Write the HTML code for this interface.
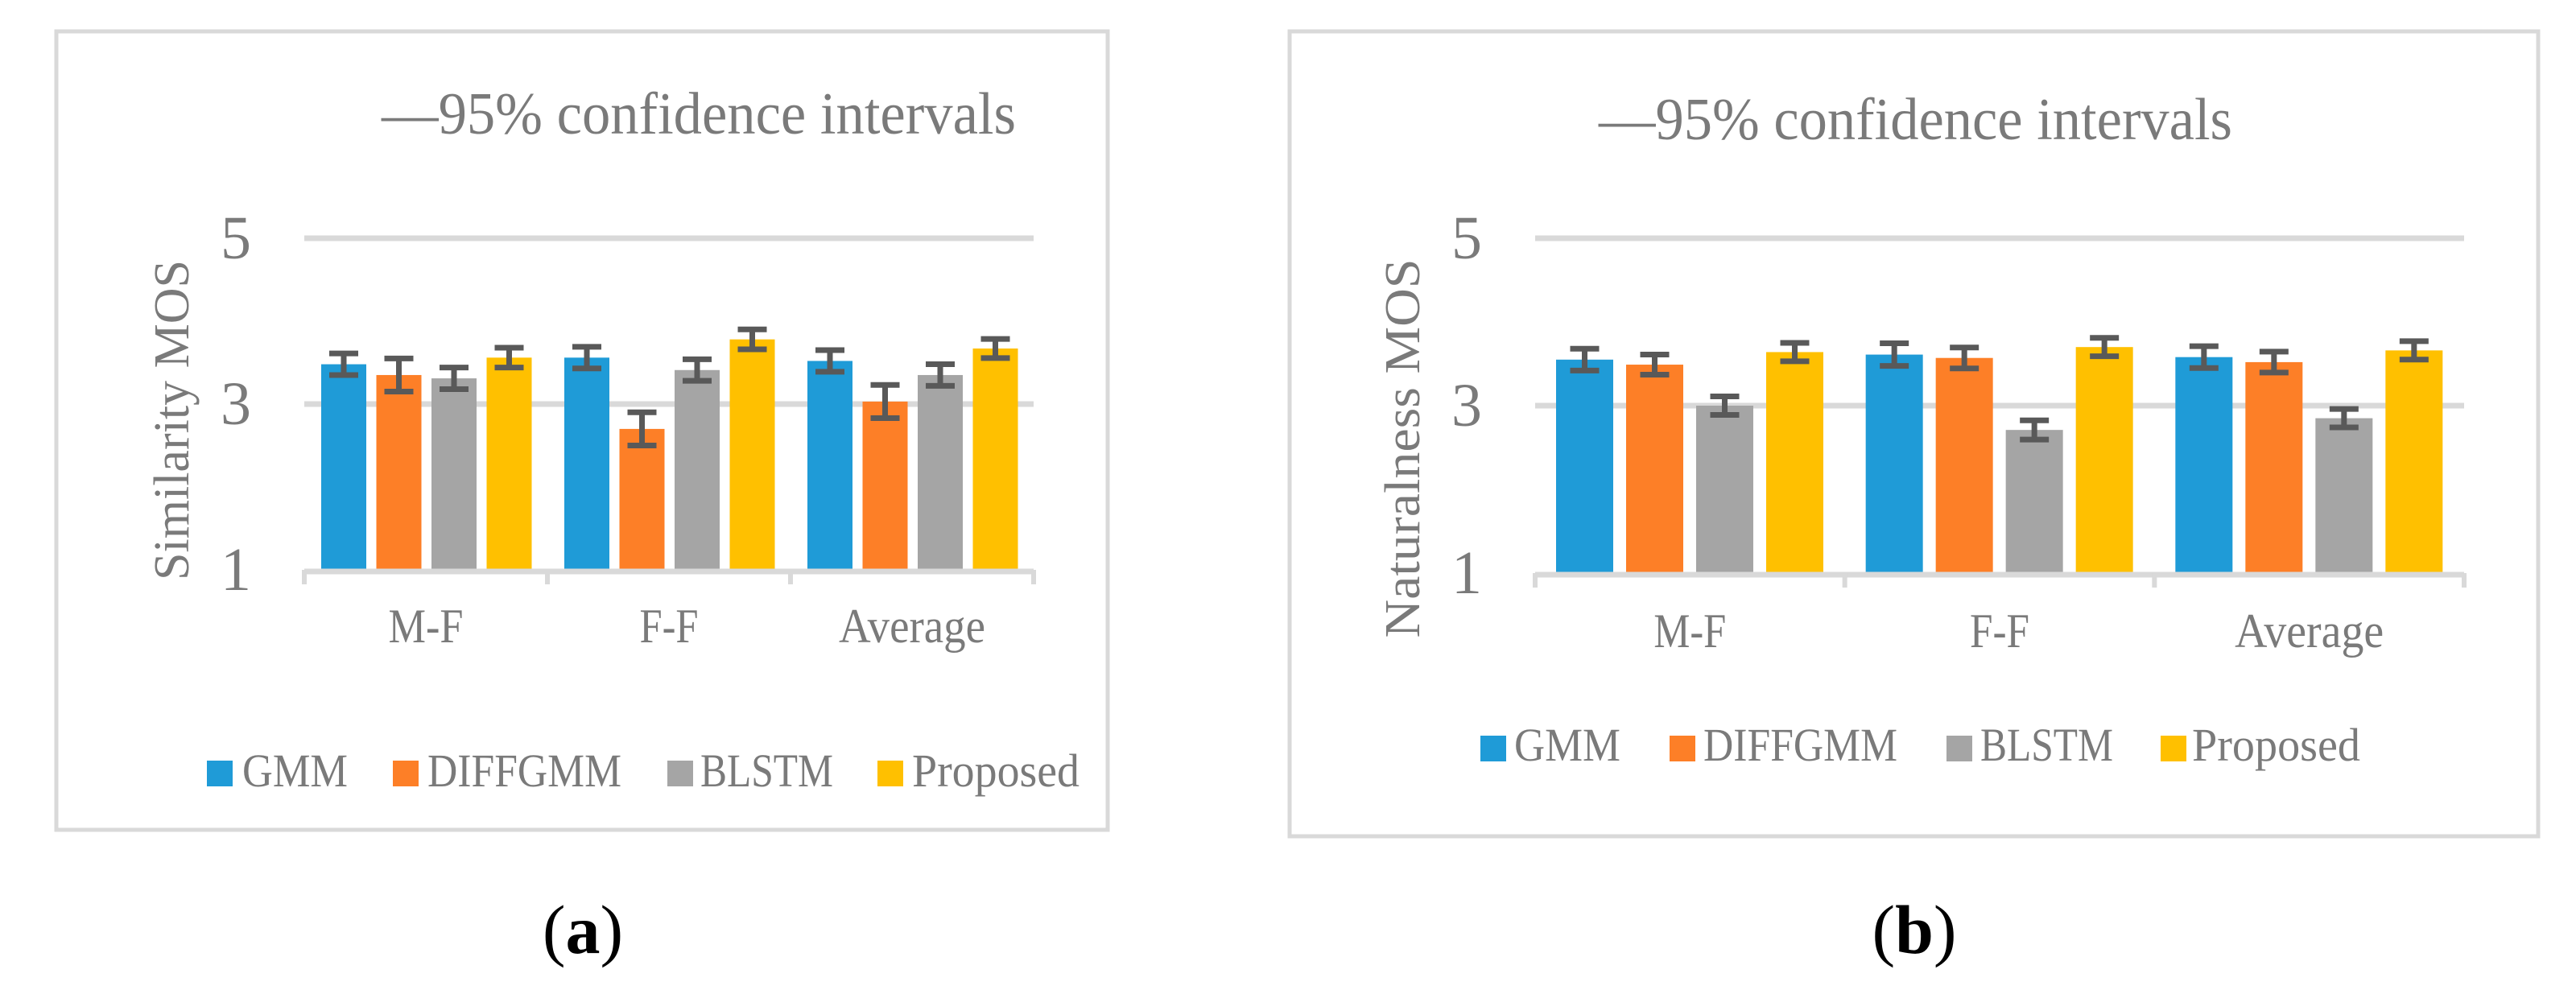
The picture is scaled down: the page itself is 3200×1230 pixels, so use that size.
<!DOCTYPE html>
<html><head><meta charset="utf-8"><style>
html,body{margin:0;padding:0;background:#fff;overflow:hidden;}
svg{display:block;font-family:"Liberation Serif",serif;}
</style></head><body>
<svg id="fig" width="3200" height="1230" viewBox="0 0 3200 1230" xmlns="http://www.w3.org/2000/svg"></svg>
<script>
const categories = ["M-F", "F-F", "Average"];
const seriesNames = ["GMM", "DIFFGMM", "BLSTM", "Proposed"];
const seriesColors = ["#1f9bd7", "#fd7f27", "#a5a5a5", "#ffc000"];
const yTicks = [1, 3, 5];
const simGMM = [3.48, 3.56, 3.52];
const simDIFFGMM = [3.35, 2.70, 3.03];
const simBLSTM = [3.31, 3.41, 3.35];
const simProposed = [3.56, 3.78, 3.67];
const simErrGMM = [0.13, 0.13, 0.13];
const simErrDIFFGMM = [0.20, 0.20, 0.20];
const simErrBLSTM = [0.13, 0.13, 0.13];
const simErrProposed = [0.12, 0.12, 0.115];
const natGMM = [3.55, 3.61, 3.58];
const natDIFFGMM = [3.49, 3.57, 3.52];
const natBLSTM = [3.00, 2.71, 2.85];
const natProposed = [3.64, 3.70, 3.66];
const natErrGMM = [0.13, 0.135, 0.13];
const natErrDIFFGMM = [0.12, 0.125, 0.125];
const natErrBLSTM = [0.11, 0.115, 0.11];
const natErrProposed = [0.11, 0.11, 0.11];

const NS = "http://www.w3.org/2000/svg";
const svg = document.getElementById("fig");
function mk(tag, attrs, parent, text) {
  const e = document.createElementNS(NS, tag);
  for (const k in attrs) e.setAttribute(k, attrs[k]);
  if (text !== undefined) e.textContent = text;
  (parent || svg).appendChild(e);
  return e;
}
const GRAY = "#7a7a7a";

function drawChart(c) {
  const g = mk("g", {});
  
  
  const frame = mk("rect", {x: c.frame[0], y: c.frame[1], width: c.frame[2], height: c.frame[3], fill: "#fff", stroke: "#d9d9d9", "stroke-width": 5}, g);
  
  
  const yScale = v => c.y1 + (v - 1) / 4 * (c.y5 - c.y1);
  yTicks.forEach(t => {
    if (t === 1) return;
    const l = mk("line", {x1: c.x0, x2: c.x1, y1: yScale(t), y2: yScale(t), stroke: "#d9d9d9", "stroke-width": 7}, g);
    
    
  });
  yTicks.forEach(t => {
    const tx = mk("text", {x: c.tickX, y: yScale(t) + 25, "text-anchor": "middle", "font-size": 76, fill: GRAY}, g, String(t));
    
    
  });
  const groupW = (c.x1 - c.x0) / categories.length;
  c.values.forEach((vals, s) => {
    vals.forEach((v, i) => {
      const bx = c.x0 + i * groupW + c.barOff + s * c.barStep;
      const top = yScale(v);
      const r = mk("rect", {x: bx, y: top, width: c.barW, height: yScale(1) - top, fill: seriesColors[s]}, g);
      
      
      const e = c.errs[s][i];
      const cx = bx + c.barW / 2;
      const eb = mk("path", {d: `M${cx - 18} ${yScale(v + e)} H${cx + 18} M${cx} ${yScale(v + e)} V${yScale(v - e)} M${cx - 18} ${yScale(v - e)} H${cx + 18}`, stroke: "#595959", "stroke-width": 7, fill: "none"}, g);
      
      
    });
  });
  const ax = mk("line", {x1: c.x0, x2: c.x1, y1: yScale(1) + 2, y2: yScale(1) + 2, stroke: "#d9d9d9", "stroke-width": 7}, g);
  
  
  for (let i = 0; i <= categories.length; i++) {
    const tk = mk("line", {x1: c.x0 + i * groupW, x2: c.x0 + i * groupW, y1: yScale(1), y2: yScale(1) + 18, stroke: "#d9d9d9", "stroke-width": 6}, g);
    
    
  }
  categories.forEach((cat, i) => {
    const t = mk("text", {x: c.x0 + (i + 0.5) * groupW, y: c.catY, "text-anchor": "middle", "font-size": 60, fill: GRAY, textLength: c.catLen[i], lengthAdjust: "spacingAndGlyphs"}, g, cat);
    
    
  });
  const tt = mk("text", {x: c.titleX, y: c.titleY, "font-size": 74, fill: GRAY, textLength: c.titleLen, lengthAdjust: "spacingAndGlyphs"}, g, "\u201495% confidence intervals");
  
  
  const yt = mk("text", {x: 0, y: 0, "text-anchor": "middle", "font-size": 62, fill: GRAY, transform: `translate(${c.yTitleX},${c.yTitleY}) rotate(-90)`, textLength: c.yTitleLen, lengthAdjust: "spacingAndGlyphs", "xml:space": "preserve"}, g, c.yTitle);
  
  
  seriesNames.forEach((n, s) => {
    const sq = mk("rect", {x: c.legSq[s], y: c.legSqY, width: 32, height: 32, fill: seriesColors[s]}, g);
    
    
    const lt = mk("text", {x: c.legTx[s], y: c.legY, "font-size": 58, fill: GRAY, textLength: c.legLen[s], lengthAdjust: "spacingAndGlyphs"}, g, n);
    
    
  });
  const cap = mk("text", {x: c.capX, y: 1184, "text-anchor": "middle", "font-size": 86, fill: "#000"}, g);
  
  
  mk("tspan", {}, cap, "(");
  mk("tspan", {"font-weight": "bold"}, cap, c.letter);
  mk("tspan", {}, cap, ")");
}

drawChart({
  name: "chart-similarity", frame: [70, 39, 1306, 992],
  x0: 378, x1: 1284, y1: 708, y5: 296, tickX: 293,
  barOff: 21, barStep: 68.5, barW: 56,
  values: [simGMM, simDIFFGMM, simBLSTM, simProposed],
  errs: [simErrGMM, simErrDIFFGMM, simErrBLSTM, simErrProposed],
  catY: 798, catLen: [93, 73, 182],
  titleX: 474, titleY: 166, titleLen: 788,
  yTitle: "Similarity MOS", yTitleX: 234, yTitleY: 522, yTitleLen: 398,
  legY: 977, legSqY: 945, legSq: [257, 488, 829, 1090], legTx: [301, 531, 870, 1133], legLen: [131, 241, 165, 208],
  capX: 724, letter: "a"
});
drawChart({
  name: "chart-naturalness", frame: [1602, 39, 1551, 1000],
  x0: 1907, x1: 3061, y1: 712, y5: 296, tickX: 1822,
  barOff: 26, barStep: 87, barW: 71,
  values: [natGMM, natDIFFGMM, natBLSTM, natProposed],
  errs: [natErrGMM, natErrDIFFGMM, natErrBLSTM, natErrProposed],
  catY: 804, catLen: [90, 74, 185],
  titleX: 1986, titleY: 173, titleLen: 787,
  yTitle: "Naturalness  MOS", yTitleX: 1763, yTitleY: 557, yTitleLen: 471,
  legY: 945, legSqY: 914, legSq: [1839, 2074, 2418, 2684], legTx: [1881, 2116, 2460, 2723], legLen: [132, 241, 165, 209],
  capX: 2378, letter: "b"
});
</script>
</body></html>
